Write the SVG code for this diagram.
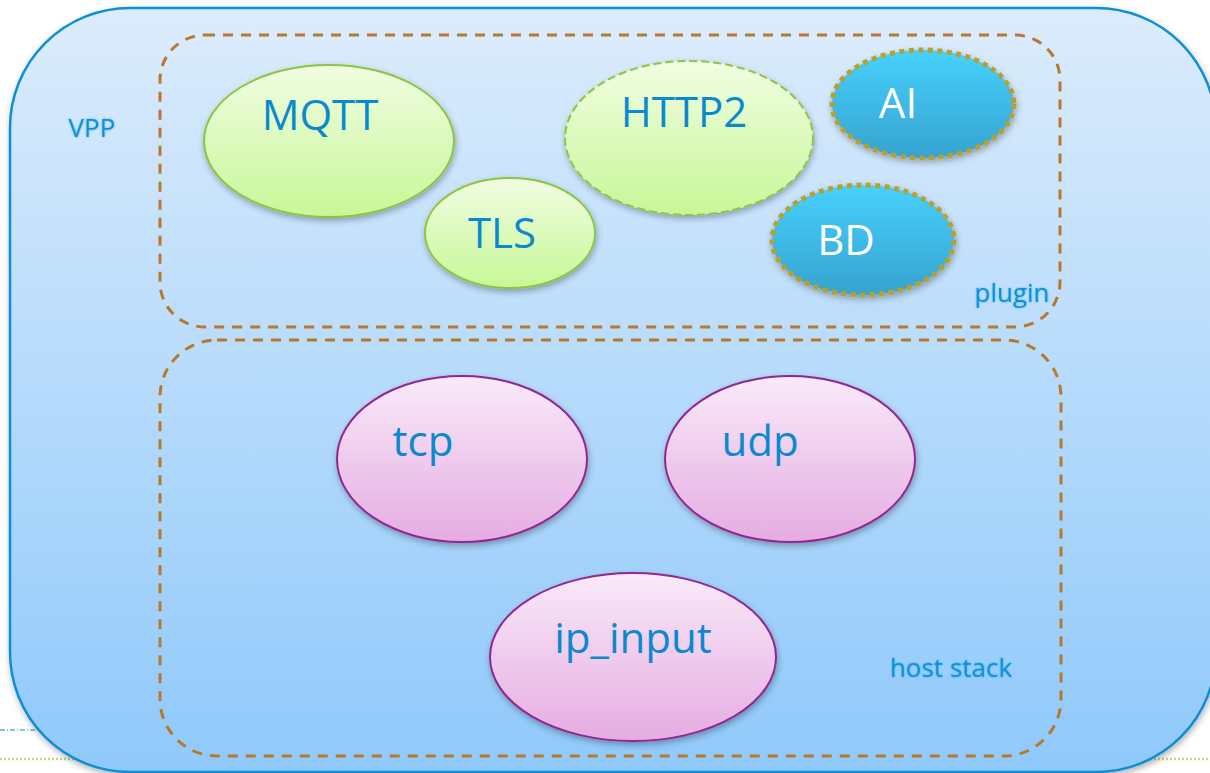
<svg xmlns="http://www.w3.org/2000/svg" width="1210" height="773" viewBox="0 0 1210 773">
  <defs>
    <linearGradient id="gBg" x1="0" y1="0" x2="0" y2="1">
      <stop offset="0" stop-color="#dcecfc"/>
      <stop offset="1" stop-color="#8fc9fb"/>
    </linearGradient>
    <linearGradient id="gGreen" x1="0" y1="0" x2="0" y2="1">
      <stop offset="0" stop-color="#f1fde2"/>
      <stop offset="1" stop-color="#c8f797"/>
    </linearGradient>
    <linearGradient id="gBlue" x1="0" y1="0" x2="0" y2="1">
      <stop offset="0" stop-color="#47d1fd"/>
      <stop offset="1" stop-color="#36a3cf"/>
    </linearGradient>
    <linearGradient id="gPink" x1="0" y1="0" x2="0" y2="1">
      <stop offset="0" stop-color="#f9eaf9"/>
      <stop offset="1" stop-color="#e5ace2"/>
    </linearGradient>
    <filter id="shadow" x="-20%" y="-20%" width="140%" height="150%">
      <feDropShadow dx="1" dy="3" stdDeviation="3" flood-color="#000" flood-opacity="0.3"/>
    </filter>
    <filter id="glow" x="-20%" y="-40%" width="140%" height="180%">
      <feGaussianBlur stdDeviation="0.8" result="b"/>
      <feComponentTransfer in="b" result="c"><feFuncA type="linear" slope="0.6"/></feComponentTransfer>
      <feMerge><feMergeNode in="c"/><feMergeNode in="SourceGraphic"/></feMerge>
    </filter>
  </defs>
  <style>
    .big { font-family: "Open Sans", "Liberation Sans", sans-serif; font-size: 42px; fill: #0a89cf; text-anchor: middle; }
    .white { fill: #ffffff; }
    .small { font-family: "Open Sans", "Liberation Sans", sans-serif; font-size: 26px; fill: #1192d8; text-anchor: middle; }
    .green { fill: url(#gGreen); stroke: #8cc63f; stroke-width: 2; }
    .blue { fill: url(#gBlue); stroke: #b9a02e; stroke-width: 5; stroke-dasharray: 5 4.5; }
    .pink { fill: url(#gPink); stroke: #93278f; stroke-width: 2; }
    .box { fill: none; stroke: #b8792b; stroke-width: 3; stroke-dasharray: 10 8; }
  </style>

  <!-- background slide decoration -->
  <g id="decor">
    <line x1="0" y1="730" x2="45" y2="730" stroke="#86c9cc" stroke-width="2" stroke-dasharray="5 2 1 2"/>
    <line x1="0" y1="759" x2="80" y2="759" stroke="#c5d67c" stroke-width="2.5" stroke-dasharray="2 2"/>
    <line x1="1150" y1="759" x2="1210" y2="759" stroke="#c5d67c" stroke-width="2.5" stroke-dasharray="2 2"/>
  </g>

  <g id="vpp">
    <rect x="10" y="8" width="1206" height="764" rx="120" ry="120" fill="url(#gBg)" stroke="#0e8fd6" stroke-width="2.5" filter="url(#shadow)"/>
    <text class="small" x="92" y="137" filter="url(#glow)">VPP</text>
  </g>

  <g id="plugin">
    <rect class="box" x="160" y="35" width="900" height="292" rx="45" ry="45"/>
    <text class="small" x="1012" y="302" filter="url(#glow)">plugin</text>
  </g>

  <g id="hoststack">
    <rect class="box" x="160" y="340" width="901" height="416" rx="57" ry="57"/>
    <text class="small" x="951" y="677" filter="url(#glow)">host stack</text>
  </g>

  <g id="mqtt">
    <ellipse class="green" cx="329" cy="141" rx="125" ry="76" filter="url(#shadow)"/>
    <text class="big" x="320" y="130">MQTT</text>
  </g>
  <g id="tls">
    <ellipse class="green" cx="510" cy="233" rx="85" ry="55" filter="url(#shadow)"/>
    <text class="big" x="502" y="248">TLS</text>
  </g>
  <g id="http2">
    <ellipse class="green" cx="689" cy="138" rx="124" ry="77" stroke-dasharray="8 4" filter="url(#shadow)"/>
    <text class="big" x="684" y="127" font-size="40">HTTP2</text>
  </g>
  <g id="ai">
    <ellipse class="blue" cx="923" cy="104" rx="91" ry="54" filter="url(#shadow)"/>
    <text class="big white" x="898" y="118">AI</text>
  </g>
  <g id="bd">
    <ellipse class="blue" cx="863" cy="240" rx="91" ry="55" filter="url(#shadow)"/>
    <text class="big white" x="846" y="255">BD</text>
  </g>
  <g id="tcp">
    <ellipse class="pink" cx="462" cy="459" rx="125" ry="83" filter="url(#shadow)"/>
    <text class="big" x="423" y="456">tcp</text>
  </g>
  <g id="udp">
    <ellipse class="pink" cx="790" cy="459" rx="125" ry="83" filter="url(#shadow)"/>
    <text class="big" x="760" y="456">udp</text>
  </g>
  <g id="ip_input">
    <ellipse class="pink" cx="633" cy="657" rx="143" ry="84" filter="url(#shadow)"/>
    <text class="big" x="633" y="653">ip_input</text>
  </g>

  <g id="connectors"/>
</svg>
